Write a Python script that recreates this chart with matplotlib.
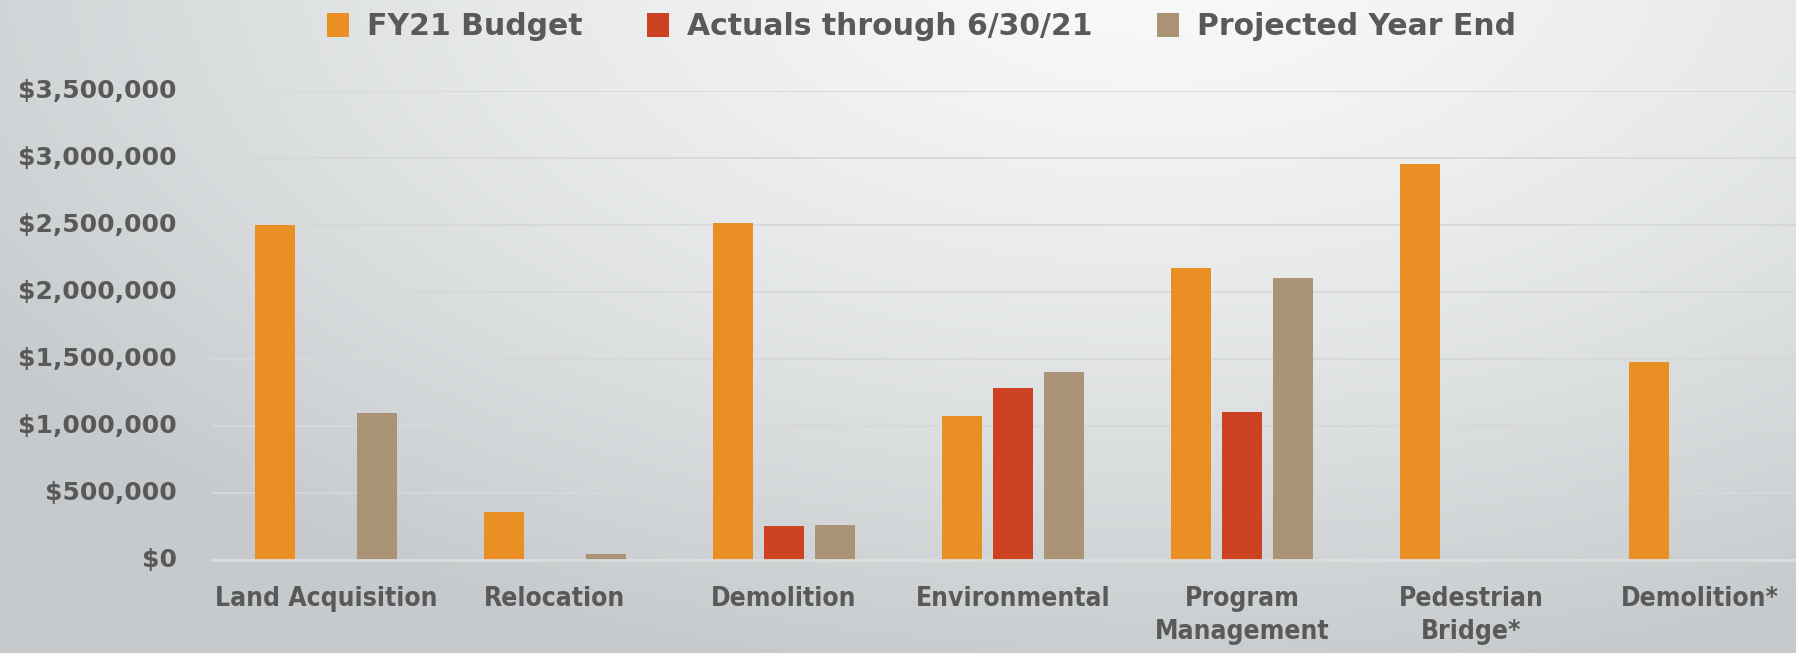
import numpy as np
import matplotlib
matplotlib.use("Agg")
import matplotlib.pyplot as plt
from matplotlib.colors import LinearSegmentedColormap
from matplotlib.ticker import FuncFormatter, MultipleLocator


CATEGORIES = [
    "Land Acquisition",
    "Relocation",
    "Demolition",
    "Environmental",
    "Program\nManagement",
    "Pedestrian\nBridge*",
    "Demolition*",
]
SERIES = ["FY21 Budget", "Actuals through 6/30/21", "Projected Year End"]
BUDGET = [2500000, 355000, 2513000, 1072000, 2177000, 2955000, 1478000]
ACTUALS = [0, 0, 255000, 1286000, 1102000, 0, 0]
PROJECTED = [1100000, 47000, 263000, 1400000, 2102000, 0, 0]

COLORS = ["#EA8F23", "#CD4322", "#AA9475"]
TEXT_COLOR = "#595959"
W, H = 1796, 653


def draw_background(fig):
    bg = fig.add_axes([0, 0, 1, 1], zorder=-10)
    yy, xx = np.mgrid[0:H, 0:W]
    d = np.sqrt(((xx - 1150) / 1.9) ** 2 + (yy + 40) ** 2) / 730.0
    t = np.clip(d, 0, 1) ** 1.4
    cmap = LinearSegmentedColormap.from_list("bg", ["#f8f9f9", "#c6cacc"])
    bg.imshow(t, cmap=cmap, vmin=0, vmax=1, aspect="auto", extent=(0, 1, 0, 1))
    bg.axis("off")


def main() -> None:
    plt.rcParams["font.family"] = ["DejaVu Sans"]
    fig = plt.figure(figsize=(W / 100, H / 100), dpi=100)
    draw_background(fig)

    ax = fig.add_axes([211.5 / W, 1 - 560 / H, 1 - 211.5 / W, 469 / H])
    ax.set_facecolor("none")

    x = np.arange(len(CATEGORIES))
    width = 0.175
    offset = 0.223
    for i, (name, vals) in enumerate(zip(SERIES, [BUDGET, ACTUALS, PROJECTED])):
        ax.bar(x + (i - 1) * offset, vals, width=width, color=COLORS[i],
               label=name, zorder=3)

    ax.set_ylim(0, 3500000)
    ax.set_xlim(-0.5, 6.42)
    ax.yaxis.set_major_locator(MultipleLocator(500000))
    ax.yaxis.set_major_formatter(FuncFormatter(lambda v, p: f"${v:,.0f}"))
    ax.grid(axis="y", color="#d6d8d9", linewidth=1.3, zorder=0)
    for side in ["top", "right", "left"]:
        ax.spines[side].set_visible(False)
    ax.spines["bottom"].set_color("#dcdcdc")
    ax.spines["bottom"].set_linewidth(2)
    ax.spines["bottom"].set_zorder(4)

    ax.set_xticks(x)
    ax.set_xticklabels(CATEGORIES, fontsize=19, fontweight="bold",
                       color=TEXT_COLOR, linespacing=1.35,
                       fontstretch="condensed")
    ax.tick_params(axis="x", length=0, pad=19)
    ax.tick_params(axis="y", length=0, pad=25, labelsize=18,
                   labelcolor=TEXT_COLOR)
    for lbl in ax.get_yticklabels():
        lbl.set_fontweight("bold")
        lbl.set_va("center")

    handles, labels = ax.get_legend_handles_labels()
    leg = fig.legend(handles, labels, loc="center", ncol=3,
                     bbox_to_anchor=(0.513, 0.959), frameon=False,
                     prop={"size": 21.5, "weight": "bold"},
                     handlelength=0.75, handleheight=0.85,
                     handletextpad=0.6, columnspacing=2.15)
    for t in leg.get_texts():
        t.set_color(TEXT_COLOR)

    fig.savefig("out.png", dpi=100)


if __name__ == "__main__":
    main()
